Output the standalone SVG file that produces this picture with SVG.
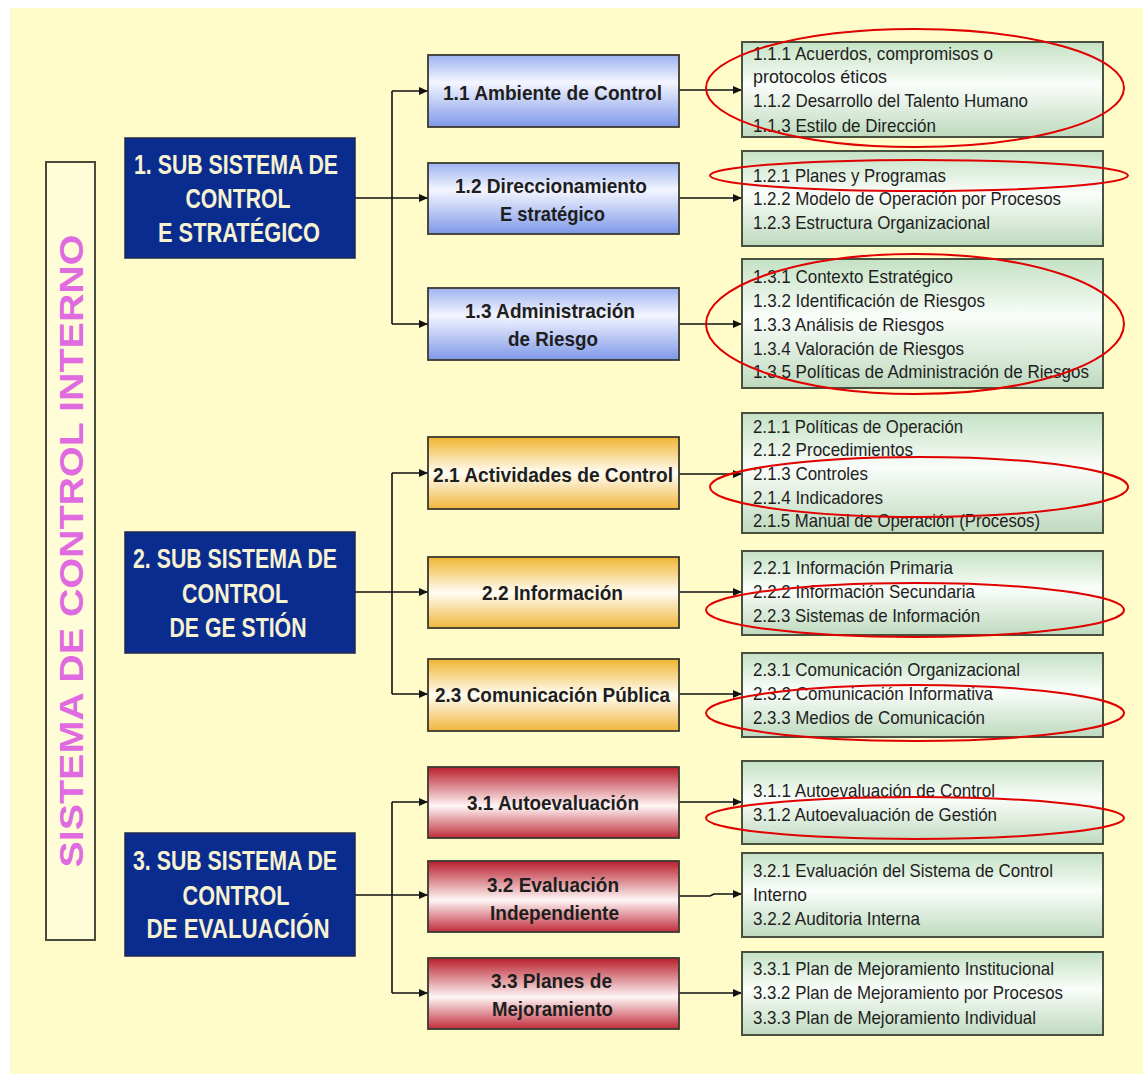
<svg xmlns="http://www.w3.org/2000/svg" width="1143" height="1074" viewBox="0 0 1143 1074">
<defs>
<style>
.blue{fill:#0B2C8F;stroke:#1c2850;stroke-width:1.5}
.bt{font-family:"Liberation Sans",Arial,sans-serif;font-weight:bold;font-size:27px;fill:#F6F2D2;text-anchor:middle}
.mid{stroke:#3a3a30;stroke-width:1.8}
.mt{font-family:"Liberation Sans",Arial,sans-serif;font-weight:bold;font-size:21px;fill:#1e1e1e}
.grn{fill:url(#gG);stroke:#4a5040;stroke-width:2}
.rt{font-family:"Liberation Sans",Arial,sans-serif;font-size:19px;fill:#1e1e1e}
.con{stroke:#111;stroke-width:1.6;fill:none}
.ell{fill:none;stroke:#E00000;stroke-width:2}
</style>
<linearGradient id="gB" x1="0" y1="0" x2="0" y2="1">
<stop offset="0" stop-color="#9CB2F0"/><stop offset="0.38" stop-color="#F4F6FF"/><stop offset="1" stop-color="#7E98E8"/>
</linearGradient>
<linearGradient id="gO" x1="0" y1="0" x2="0" y2="1">
<stop offset="0" stop-color="#F0B530"/><stop offset="0.5" stop-color="#FFFDF4"/><stop offset="1" stop-color="#F0B63C"/>
</linearGradient>
<linearGradient id="gR" x1="0" y1="0" x2="0" y2="1">
<stop offset="0" stop-color="#B81E2C"/><stop offset="0.55" stop-color="#FFF6F6"/><stop offset="1" stop-color="#C02C3A"/>
</linearGradient>
<linearGradient id="gG" x1="0" y1="0" x2="0" y2="1">
<stop offset="0" stop-color="#C4E2C4"/><stop offset="0.45" stop-color="#FAFDFA"/><stop offset="1" stop-color="#BEDABE"/>
</linearGradient>
<marker id="ar" markerUnits="userSpaceOnUse" markerWidth="10" markerHeight="10" refX="9" refY="5" orient="auto">
<path d="M0,1 L9,5 L0,9 Z" fill="#111"/>
</marker>
</defs>

<rect x="0" y="0" width="1143" height="1074" fill="#FFFFFF"/>
<rect x="10" y="8" width="1133" height="1066" fill="#FFFCCA"/>

<g id="sistema">
<rect x="46" y="162" width="49" height="778" fill="#FFFCD8" stroke="#4a4a3a" stroke-width="2"/>
<text transform="translate(83,551) rotate(-90)" x="0" y="0" text-anchor="middle" textLength="633" lengthAdjust="spacingAndGlyphs" font-family="'Liberation Sans',Arial,sans-serif" font-weight="bold" font-size="34" fill="#E06AE0">SISTEMA DE CONTROL INTERNO</text>
</g>

<g id="connectors">
<line class="con" x1="355" y1="198" x2="392" y2="198"/>
<line class="con" x1="392" y1="91" x2="392" y2="324"/>
<line class="con" x1="392" y1="91" x2="428" y2="91" marker-end="url(#ar)"/>
<line class="con" x1="392" y1="198" x2="428" y2="198" marker-end="url(#ar)"/>
<line class="con" x1="392" y1="324" x2="428" y2="324" marker-end="url(#ar)"/>
<line class="con" x1="355" y1="592" x2="392" y2="592"/>
<line class="con" x1="392" y1="473" x2="392" y2="694"/>
<line class="con" x1="392" y1="473" x2="428" y2="473" marker-end="url(#ar)"/>
<line class="con" x1="392" y1="592" x2="428" y2="592" marker-end="url(#ar)"/>
<line class="con" x1="392" y1="694" x2="428" y2="694" marker-end="url(#ar)"/>
<line class="con" x1="355" y1="895" x2="392" y2="895"/>
<line class="con" x1="392" y1="802" x2="392" y2="993"/>
<line class="con" x1="392" y1="802" x2="428" y2="802" marker-end="url(#ar)"/>
<line class="con" x1="392" y1="895" x2="428" y2="895" marker-end="url(#ar)"/>
<line class="con" x1="392" y1="993" x2="428" y2="993" marker-end="url(#ar)"/>
<line class="con" x1="679" y1="90" x2="742" y2="90" marker-end="url(#ar)"/>
<line class="con" x1="679" y1="198" x2="742" y2="198" marker-end="url(#ar)"/>
<line class="con" x1="679" y1="324" x2="742" y2="324" marker-end="url(#ar)"/>
<line class="con" x1="679" y1="474" x2="742" y2="474" marker-end="url(#ar)"/>
<line class="con" x1="679" y1="592" x2="742" y2="592" marker-end="url(#ar)"/>
<line class="con" x1="679" y1="694" x2="742" y2="694" marker-end="url(#ar)"/>
<line class="con" x1="679" y1="802" x2="742" y2="802" marker-end="url(#ar)"/>
<path class="con" d="M679,896 L710,896 L714,894 L742,894" marker-end="url(#ar)"/>
<line class="con" x1="679" y1="993" x2="742" y2="993" marker-end="url(#ar)"/>
</g>

<g id="sub1">
<rect class="blue" x="125" y="138" width="230" height="120"/>
<text class="bt" x="236" y="174" textLength="204" lengthAdjust="spacingAndGlyphs">1. SUB SISTEMA DE</text>
<text class="bt" x="238" y="208" textLength="105" lengthAdjust="spacingAndGlyphs">CONTROL</text>
<text class="bt" x="239" y="242" textLength="162" lengthAdjust="spacingAndGlyphs">E STRATÉGICO</text>
</g>
<g id="sub2">
<rect class="blue" x="125" y="532" width="230" height="121"/>
<text class="bt" x="235" y="568" textLength="204" lengthAdjust="spacingAndGlyphs">2. SUB SISTEMA DE</text>
<text class="bt" x="235" y="603" textLength="106" lengthAdjust="spacingAndGlyphs">CONTROL</text>
<text class="bt" x="238" y="637" textLength="137" lengthAdjust="spacingAndGlyphs">DE GE STIÓN</text>
</g>
<g id="sub3">
<rect class="blue" x="125" y="833" width="230" height="123"/>
<text class="bt" x="235" y="870" textLength="204" lengthAdjust="spacingAndGlyphs">3. SUB SISTEMA DE</text>
<text class="bt" x="236" y="905" textLength="107" lengthAdjust="spacingAndGlyphs">CONTROL</text>
<text class="bt" x="238" y="938" textLength="183" lengthAdjust="spacingAndGlyphs">DE EVALUACIÓN</text>
</g>

<g id="n11">
<rect class="mid" x="428" y="55" width="251" height="72" fill="url(#gB)"/>
<text class="mt" x="443" y="100" textLength="219" lengthAdjust="spacingAndGlyphs">1.1 Ambiente de Control</text>
</g>
<g id="n12">
<rect class="mid" x="428" y="163" width="251" height="71" fill="url(#gB)"/>
<text class="mt" x="455" y="193" textLength="192" lengthAdjust="spacingAndGlyphs">1.2 Direccionamiento</text>
<text class="mt" x="500" y="221" textLength="105" lengthAdjust="spacingAndGlyphs">E stratégico</text>
</g>
<g id="n13">
<rect class="mid" x="428" y="288" width="251" height="72" fill="url(#gB)"/>
<text class="mt" x="465" y="318" textLength="170" lengthAdjust="spacingAndGlyphs">1.3 Administración</text>
<text class="mt" x="508" y="346" textLength="90" lengthAdjust="spacingAndGlyphs">de Riesgo</text>
</g>
<g id="n21">
<rect class="mid" x="428" y="437" width="251" height="72" fill="url(#gO)"/>
<text class="mt" x="433" y="482" textLength="240" lengthAdjust="spacingAndGlyphs">2.1 Actividades de Control</text>
</g>
<g id="n22">
<rect class="mid" x="428" y="557" width="251" height="71" fill="url(#gO)"/>
<text class="mt" x="482" y="600" textLength="141" lengthAdjust="spacingAndGlyphs">2.2 Información</text>
</g>
<g id="n23">
<rect class="mid" x="428" y="659" width="251" height="72" fill="url(#gO)"/>
<text class="mt" x="435" y="702" textLength="235" lengthAdjust="spacingAndGlyphs">2.3 Comunicación Pública</text>
</g>
<g id="n31">
<rect class="mid" x="428" y="767" width="251" height="71" fill="url(#gR)"/>
<text class="mt" x="467" y="810" textLength="172" lengthAdjust="spacingAndGlyphs">3.1 Autoevaluación</text>
</g>
<g id="n32">
<rect class="mid" x="428" y="861" width="251" height="71" fill="url(#gR)"/>
<text class="mt" x="487" y="892" textLength="132" lengthAdjust="spacingAndGlyphs">3.2 Evaluación</text>
<text class="mt" x="490" y="920" textLength="129" lengthAdjust="spacingAndGlyphs">Independiente</text>
</g>
<g id="n33">
<rect class="mid" x="428" y="958" width="251" height="71" fill="url(#gR)"/>
<text class="mt" x="491" y="988" textLength="121" lengthAdjust="spacingAndGlyphs">3.3 Planes de</text>
<text class="mt" x="492" y="1016" textLength="121" lengthAdjust="spacingAndGlyphs">Mejoramiento</text>
</g>

<g id="d11">
<rect class="grn" x="742" y="42" width="361" height="95"/>
<text class="rt" x="753" y="60" textLength="240" lengthAdjust="spacingAndGlyphs">1.1.1 Acuerdos, compromisos o</text>
<text class="rt" x="753" y="83" textLength="134" lengthAdjust="spacingAndGlyphs">protocolos éticos</text>
<text class="rt" x="753" y="107" textLength="275" lengthAdjust="spacingAndGlyphs">1.1.2 Desarrollo del Talento Humano</text>
<text class="rt" x="753" y="132" textLength="183" lengthAdjust="spacingAndGlyphs">1.1.3 Estilo de Dirección</text>
</g>
<g id="d12">
<rect class="grn" x="742" y="151" width="361" height="95"/>
<text class="rt" x="753" y="182" textLength="193" lengthAdjust="spacingAndGlyphs">1.2.1 Planes y Programas</text>
<text class="rt" x="753" y="205" textLength="308" lengthAdjust="spacingAndGlyphs">1.2.2 Modelo de Operación por Procesos</text>
<text class="rt" x="753" y="229" textLength="237" lengthAdjust="spacingAndGlyphs">1.2.3 Estructura Organizacional</text>
</g>
<g id="d13">
<rect class="grn" x="742" y="259" width="361" height="129"/>
<text class="rt" x="753" y="283" textLength="200" lengthAdjust="spacingAndGlyphs">1.3.1 Contexto Estratégico</text>
<text class="rt" x="753" y="307" textLength="232" lengthAdjust="spacingAndGlyphs">1.3.2 Identificación de Riesgos</text>
<text class="rt" x="753" y="331" textLength="191" lengthAdjust="spacingAndGlyphs">1.3.3 Análisis de Riesgos</text>
<text class="rt" x="753" y="355" textLength="211" lengthAdjust="spacingAndGlyphs">1.3.4 Valoración de Riesgos</text>
<text class="rt" x="753" y="378" textLength="336" lengthAdjust="spacingAndGlyphs">1.3.5 Políticas de Administración de Riesgos</text>
</g>
<g id="d21">
<rect class="grn" x="742" y="413" width="361" height="120"/>
<text class="rt" x="753" y="433" textLength="210" lengthAdjust="spacingAndGlyphs">2.1.1 Políticas de Operación</text>
<text class="rt" x="753" y="456" textLength="160" lengthAdjust="spacingAndGlyphs">2.1.2 Procedimientos</text>
<text class="rt" x="753" y="480" textLength="115" lengthAdjust="spacingAndGlyphs">2.1.3 Controles</text>
<text class="rt" x="753" y="504" textLength="130" lengthAdjust="spacingAndGlyphs">2.1.4 Indicadores</text>
<text class="rt" x="753" y="527" textLength="287" lengthAdjust="spacingAndGlyphs">2.1.5 Manual de Operación (Procesos)</text>
</g>
<g id="d22">
<rect class="grn" x="742" y="551" width="361" height="84"/>
<text class="rt" x="753" y="574" textLength="200" lengthAdjust="spacingAndGlyphs">2.2.1 Información Primaria</text>
<text class="rt" x="753" y="598" textLength="222" lengthAdjust="spacingAndGlyphs">2.2.2 Información  Secundaria</text>
<text class="rt" x="753" y="622" textLength="227" lengthAdjust="spacingAndGlyphs">2.2.3 Sistemas de Información</text>
</g>
<g id="d23">
<rect class="grn" x="742" y="653" width="361" height="84"/>
<text class="rt" x="753" y="676" textLength="267" lengthAdjust="spacingAndGlyphs">2.3.1 Comunicación Organizacional</text>
<text class="rt" x="753" y="700" textLength="240" lengthAdjust="spacingAndGlyphs">2.3.2 Comunicación Informativa</text>
<text class="rt" x="753" y="724" textLength="232" lengthAdjust="spacingAndGlyphs">2.3.3 Medios de Comunicación</text>
</g>
<g id="d31">
<rect class="grn" x="742" y="761" width="361" height="83"/>
<text class="rt" x="753" y="797" textLength="242" lengthAdjust="spacingAndGlyphs">3.1.1 Autoevaluación de Control</text>
<text class="rt" x="753" y="821" textLength="244" lengthAdjust="spacingAndGlyphs">3.1.2 Autoevaluación de Gestión</text>
</g>
<g id="d32">
<rect class="grn" x="742" y="853" width="361" height="84"/>
<text class="rt" x="753" y="877" textLength="300" lengthAdjust="spacingAndGlyphs">3.2.1 Evaluación del Sistema de Control</text>
<text class="rt" x="753" y="901" textLength="54" lengthAdjust="spacingAndGlyphs">Interno</text>
<text class="rt" x="753" y="925" textLength="167" lengthAdjust="spacingAndGlyphs">3.2.2 Auditoria Interna</text>
</g>
<g id="d33">
<rect class="grn" x="742" y="952" width="361" height="83"/>
<text class="rt" x="753" y="975" textLength="301" lengthAdjust="spacingAndGlyphs">3.3.1 Plan de Mejoramiento Institucional</text>
<text class="rt" x="753" y="999" textLength="310" lengthAdjust="spacingAndGlyphs">3.3.2 Plan de Mejoramiento por Procesos</text>
<text class="rt" x="753" y="1024" textLength="283" lengthAdjust="spacingAndGlyphs">3.3.3 Plan de Mejoramiento Individual</text>
</g>

<g id="highlights">
<ellipse class="ell" cx="915" cy="88" rx="209" ry="59"/>
<ellipse class="ell" cx="919" cy="175.5" rx="209" ry="15.5"/>
<ellipse class="ell" cx="915" cy="324" rx="209" ry="70"/>
<ellipse class="ell" cx="919" cy="487" rx="209" ry="30"/>
<ellipse class="ell" cx="915" cy="610" rx="209" ry="27"/>
<ellipse class="ell" cx="915" cy="713" rx="209" ry="28"/>
<ellipse class="ell" cx="915" cy="818" rx="209" ry="21"/>
</g>
</svg>
